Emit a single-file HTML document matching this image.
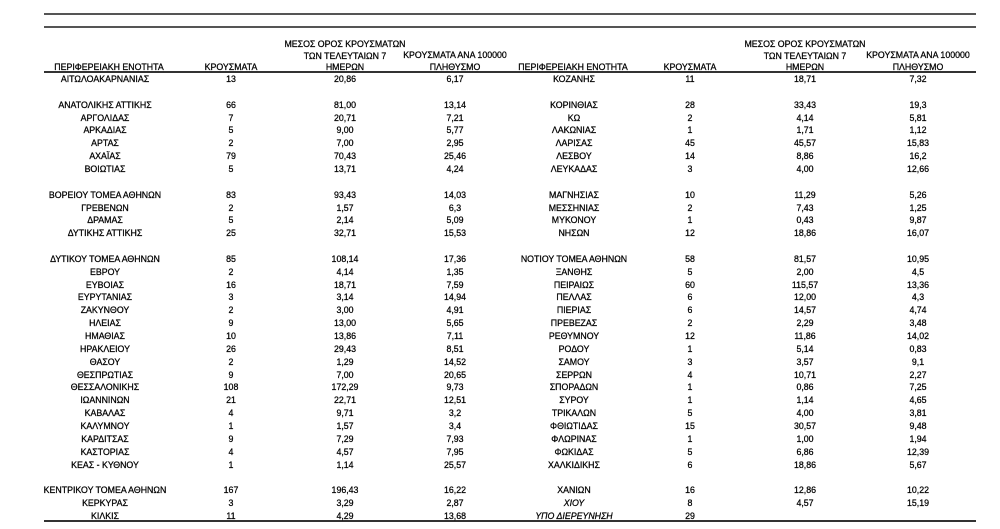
<!DOCTYPE html>
<html><head><meta charset="utf-8"><style>
body{margin:0;background:#fff;width:1000px;height:529px;overflow:hidden;position:relative;font-family:"Liberation Sans",sans-serif;font-size:8.8px;color:#000;-webkit-text-stroke:0.25px #000}
.ln{position:absolute;left:44px;width:932px;background:#555}
.r{position:absolute;left:0;width:1000px;height:13px;line-height:13px}
.r span{position:absolute;width:200px;text-align:center;white-space:nowrap}
.a{left:5px}.b{left:131px}.c{left:245px}.d{left:355px}
.e{left:474px}.f{left:590px}.g{left:705px}.h{left:818px}
.hd{position:absolute;text-align:center;width:200px;line-height:11.5px}
i{font-style:italic}
</style></head><body>
<div class="ln" style="top:13px;height:2px"></div>
<div class="ln" style="top:26px;height:2px"></div>
<div class="ln" style="top:71px;height:1.5px;background:#333"></div>
<div class="ln" style="top:520px;height:2px;background:#333"></div>

<div class="hd" style="left:9px;top:62px">ΠΕΡΙΦΕΡΕΙΑΚΗ ΕΝΟΤΗΤΑ</div>
<div class="hd" style="left:131px;top:62px">ΚΡΟΥΣΜΑΤΑ</div>
<div class="hd" style="left:245px;top:39px">ΜΕΣΟΣ ΟΡΟΣ ΚΡΟΥΣΜΑΤΩΝ<br>ΤΩΝ ΤΕΛΕΥΤΑΙΩΝ 7<br>ΗΜΕΡΩΝ</div>
<div class="hd" style="left:355px;top:50px">ΚΡΟΥΣΜΑΤΑ ΑΝΑ 100000<br>ΠΛΗΘΥΣΜΟ</div>
<div class="hd" style="left:473px;top:62px">ΠΕΡΙΦΕΡΕΙΑΚΗ ΕΝΟΤΗΤΑ</div>
<div class="hd" style="left:590px;top:62px">ΚΡΟΥΣΜΑΤΑ</div>
<div class="hd" style="left:705px;top:39px">ΜΕΣΟΣ ΟΡΟΣ ΚΡΟΥΣΜΑΤΩΝ<br>ΤΩΝ ΤΕΛΕΥΤΑΙΩΝ 7<br>ΗΜΕΡΩΝ</div>
<div class="hd" style="left:818px;top:50px">ΚΡΟΥΣΜΑΤΑ ΑΝΑ 100000<br>ΠΛΗΘΥΣΜΟ</div>

<div class="r" style="top:73px"><span class="a">ΑΙΤΩΛΟΑΚΑΡΝΑΝΙΑΣ</span><span class="b">13</span><span class="c">20,86</span><span class="d">6,17</span><span class="e">ΚΟΖΑΝΗΣ</span><span class="f">11</span><span class="g">18,71</span><span class="h">7,32</span></div>
<div class="r" style="top:98.7px"><span class="a">ΑΝΑΤΟΛΙΚΗΣ ΑΤΤΙΚΗΣ</span><span class="b">66</span><span class="c">81,00</span><span class="d">13,14</span><span class="e">ΚΟΡΙΝΘΙΑΣ</span><span class="f">28</span><span class="g">33,43</span><span class="h">19,3</span></div>
<div class="r" style="top:111.55px"><span class="a">ΑΡΓΟΛΙΔΑΣ</span><span class="b">7</span><span class="c">20,71</span><span class="d">7,21</span><span class="e">ΚΩ</span><span class="f">2</span><span class="g">4,14</span><span class="h">5,81</span></div>
<div class="r" style="top:124.4px"><span class="a">ΑΡΚΑΔΙΑΣ</span><span class="b">5</span><span class="c">9,00</span><span class="d">5,77</span><span class="e">ΛΑΚΩΝΙΑΣ</span><span class="f">1</span><span class="g">1,71</span><span class="h">1,12</span></div>
<div class="r" style="top:137.25px"><span class="a">ΑΡΤΑΣ</span><span class="b">2</span><span class="c">7,00</span><span class="d">2,95</span><span class="e">ΛΑΡΙΣΑΣ</span><span class="f">45</span><span class="g">45,57</span><span class="h">15,83</span></div>
<div class="r" style="top:150.1px"><span class="a">ΑΧΑΪΑΣ</span><span class="b">79</span><span class="c">70,43</span><span class="d">25,46</span><span class="e">ΛΕΣΒΟΥ</span><span class="f">14</span><span class="g">8,86</span><span class="h">16,2</span></div>
<div class="r" style="top:162.95px"><span class="a">ΒΟΙΩΤΙΑΣ</span><span class="b">5</span><span class="c">13,71</span><span class="d">4,24</span><span class="e">ΛΕΥΚΑΔΑΣ</span><span class="f">3</span><span class="g">4,00</span><span class="h">12,66</span></div>
<div class="r" style="top:188.65px"><span class="a">ΒΟΡΕΙΟΥ ΤΟΜΕΑ ΑΘΗΝΩΝ</span><span class="b">83</span><span class="c">93,43</span><span class="d">14,03</span><span class="e">ΜΑΓΝΗΣΙΑΣ</span><span class="f">10</span><span class="g">11,29</span><span class="h">5,26</span></div>
<div class="r" style="top:201.5px"><span class="a">ΓΡΕΒΕΝΩΝ</span><span class="b">2</span><span class="c">1,57</span><span class="d">6,3</span><span class="e">ΜΕΣΣΗΝΙΑΣ</span><span class="f">2</span><span class="g">7,43</span><span class="h">1,25</span></div>
<div class="r" style="top:214.35px"><span class="a">ΔΡΑΜΑΣ</span><span class="b">5</span><span class="c">2,14</span><span class="d">5,09</span><span class="e">ΜΥΚΟΝΟΥ</span><span class="f">1</span><span class="g">0,43</span><span class="h">9,87</span></div>
<div class="r" style="top:227.2px"><span class="a">ΔΥΤΙΚΗΣ ΑΤΤΙΚΗΣ</span><span class="b">25</span><span class="c">32,71</span><span class="d">15,53</span><span class="e">ΝΗΣΩΝ</span><span class="f">12</span><span class="g">18,86</span><span class="h">16,07</span></div>
<div class="r" style="top:252.9px"><span class="a">ΔΥΤΙΚΟΥ ΤΟΜΕΑ ΑΘΗΝΩΝ</span><span class="b">85</span><span class="c">108,14</span><span class="d">17,36</span><span class="e">ΝΟΤΙΟΥ ΤΟΜΕΑ ΑΘΗΝΩΝ</span><span class="f">58</span><span class="g">81,57</span><span class="h">10,95</span></div>
<div class="r" style="top:265.75px"><span class="a">ΕΒΡΟΥ</span><span class="b">2</span><span class="c">4,14</span><span class="d">1,35</span><span class="e">ΞΑΝΘΗΣ</span><span class="f">5</span><span class="g">2,00</span><span class="h">4,5</span></div>
<div class="r" style="top:278.6px"><span class="a">ΕΥΒΟΙΑΣ</span><span class="b">16</span><span class="c">18,71</span><span class="d">7,59</span><span class="e">ΠΕΙΡΑΙΩΣ</span><span class="f">60</span><span class="g">115,57</span><span class="h">13,36</span></div>
<div class="r" style="top:291.45px"><span class="a">ΕΥΡΥΤΑΝΙΑΣ</span><span class="b">3</span><span class="c">3,14</span><span class="d">14,94</span><span class="e">ΠΕΛΛΑΣ</span><span class="f">6</span><span class="g">12,00</span><span class="h">4,3</span></div>
<div class="r" style="top:304.3px"><span class="a">ΖΑΚΥΝΘΟΥ</span><span class="b">2</span><span class="c">3,00</span><span class="d">4,91</span><span class="e">ΠΙΕΡΙΑΣ</span><span class="f">6</span><span class="g">14,57</span><span class="h">4,74</span></div>
<div class="r" style="top:317.15px"><span class="a">ΗΛΕΙΑΣ</span><span class="b">9</span><span class="c">13,00</span><span class="d">5,65</span><span class="e">ΠΡΕΒΕΖΑΣ</span><span class="f">2</span><span class="g">2,29</span><span class="h">3,48</span></div>
<div class="r" style="top:330px"><span class="a">ΗΜΑΘΙΑΣ</span><span class="b">10</span><span class="c">13,86</span><span class="d">7,11</span><span class="e">ΡΕΘΥΜΝΟΥ</span><span class="f">12</span><span class="g">11,86</span><span class="h">14,02</span></div>
<div class="r" style="top:342.85px"><span class="a">ΗΡΑΚΛΕΙΟΥ</span><span class="b">26</span><span class="c">29,43</span><span class="d">8,51</span><span class="e">ΡΟΔΟΥ</span><span class="f">1</span><span class="g">5,14</span><span class="h">0,83</span></div>
<div class="r" style="top:355.7px"><span class="a">ΘΑΣΟΥ</span><span class="b">2</span><span class="c">1,29</span><span class="d">14,52</span><span class="e">ΣΑΜΟΥ</span><span class="f">3</span><span class="g">3,57</span><span class="h">9,1</span></div>
<div class="r" style="top:368.55px"><span class="a">ΘΕΣΠΡΩΤΙΑΣ</span><span class="b">9</span><span class="c">7,00</span><span class="d">20,65</span><span class="e">ΣΕΡΡΩΝ</span><span class="f">4</span><span class="g">10,71</span><span class="h">2,27</span></div>
<div class="r" style="top:381.4px"><span class="a">ΘΕΣΣΑΛΟΝΙΚΗΣ</span><span class="b">108</span><span class="c">172,29</span><span class="d">9,73</span><span class="e">ΣΠΟΡΑΔΩΝ</span><span class="f">1</span><span class="g">0,86</span><span class="h">7,25</span></div>
<div class="r" style="top:394.25px"><span class="a">ΙΩΑΝΝΙΝΩΝ</span><span class="b">21</span><span class="c">22,71</span><span class="d">12,51</span><span class="e">ΣΥΡΟΥ</span><span class="f">1</span><span class="g">1,14</span><span class="h">4,65</span></div>
<div class="r" style="top:407.1px"><span class="a">ΚΑΒΑΛΑΣ</span><span class="b">4</span><span class="c">9,71</span><span class="d">3,2</span><span class="e">ΤΡΙΚΑΛΩΝ</span><span class="f">5</span><span class="g">4,00</span><span class="h">3,81</span></div>
<div class="r" style="top:419.95px"><span class="a">ΚΑΛΥΜΝΟΥ</span><span class="b">1</span><span class="c">1,57</span><span class="d">3,4</span><span class="e">ΦΘΙΩΤΙΔΑΣ</span><span class="f">15</span><span class="g">30,57</span><span class="h">9,48</span></div>
<div class="r" style="top:432.8px"><span class="a">ΚΑΡΔΙΤΣΑΣ</span><span class="b">9</span><span class="c">7,29</span><span class="d">7,93</span><span class="e">ΦΛΩΡΙΝΑΣ</span><span class="f">1</span><span class="g">1,00</span><span class="h">1,94</span></div>
<div class="r" style="top:445.65px"><span class="a">ΚΑΣΤΟΡΙΑΣ</span><span class="b">4</span><span class="c">4,57</span><span class="d">7,95</span><span class="e">ΦΩΚΙΔΑΣ</span><span class="f">5</span><span class="g">6,86</span><span class="h">12,39</span></div>
<div class="r" style="top:458.5px"><span class="a">ΚΕΑΣ - ΚΥΘΝΟΥ</span><span class="b">1</span><span class="c">1,14</span><span class="d">25,57</span><span class="e">ΧΑΛΚΙΔΙΚΗΣ</span><span class="f">6</span><span class="g">18,86</span><span class="h">5,67</span></div>
<div class="r" style="top:484.2px"><span class="a">ΚΕΝΤΡΙΚΟΥ ΤΟΜΕΑ ΑΘΗΝΩΝ</span><span class="b">167</span><span class="c">196,43</span><span class="d">16,22</span><span class="e">ΧΑΝΙΩΝ</span><span class="f">16</span><span class="g">12,86</span><span class="h">10,22</span></div>
<div class="r" style="top:497.05px"><span class="a">ΚΕΡΚΥΡΑΣ</span><span class="b">3</span><span class="c">3,29</span><span class="d">2,87</span><span class="e"><i>ΧΙΟΥ</i></span><span class="f">8</span><span class="g">4,57</span><span class="h">15,19</span></div>
<div class="r" style="top:509.9px"><span class="a">ΚΙΛΚΙΣ</span><span class="b">11</span><span class="c">4,29</span><span class="d">13,68</span><span class="e"><i>ΥΠΟ ΔΙΕΡΕΥΝΗΣΗ</i></span><span class="f">29</span></div>
</body></html>
